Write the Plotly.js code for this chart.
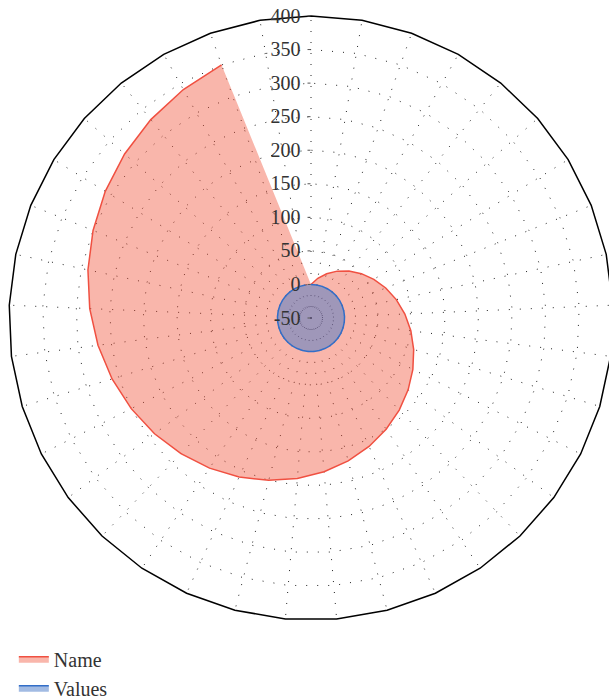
<!DOCTYPE html>
<html>
<head>
<meta charset="utf-8">
<script src="https://cdn.plot.ly/plotly-3.0.1.min.js"></script>
<style>
  html, body { margin: 0; padding: 0; overflow: hidden; background: #fff; }
  #chart { width: 613px; height: 699px; }
</style>
</head>
<body>
<div id="chart"></div>
<script>
// 37 angular categories (labels hidden in the reference)
const categories = ["C1","C2","C3","C4","C5","C6","C7","C8","C9","C10",
  "C11","C12","C13","C14","C15","C16","C17","C18","C19","C20",
  "C21","C22","C23","C24","C25","C26","C27","C28","C29","C30",
  "C31","C32","C33","C34","C35","C36","C37"];

// "Name" series: (36 points, last category empty)
const nameValues = [0, 10, 20, 30, 40, 50, 60, 70, 80, 90,
  100, 110, 120, 130, 140, 150, 160, 170, 180, 190,
  200, 210, 220, 230, 240, 250, 260, 270, 280, 290,
  300, 310, 320, 330, 340, 350];

// "Values" series: small circle at r = 0 for every category
const valuesValues = [0, 0, 0, 0, 0, 0, 0, 0, 0, 0,
  0, 0, 0, 0, 0, 0, 0, 0, 0, 0,
  0, 0, 0, 0, 0, 0, 0, 0, 0, 0,
  0, 0, 0, 0, 0, 0, 0];

// radial tick labels
const radialTicks = [-50, 0, 50, 100, 150, 200, 250, 300, 350, 400];

const seriesNames = ["Name", "Values"];

const serif = "Liberation Serif, Times New Roman, serif";

const traces = [
  {
    type: "scatterpolar",
    name: seriesNames[0],
    theta: categories.slice(0, nameValues.length),
    r: nameValues,
    mode: "lines",
    fill: "toself",
    fillcolor: "rgba(240, 80, 55, 0.42)",
    line: { color: "rgb(240, 80, 65)", width: 1.5 },
    hoverinfo: "skip"
  },
  {
    type: "scatterpolar",
    name: seriesNames[1],
    theta: categories,
    r: valuesValues,
    mode: "lines",
    fill: "toself",
    fillcolor: "rgba(70, 120, 200, 0.5)",
    line: { color: "rgb(50, 110, 200)", width: 1.5 },
    hoverinfo: "skip"
  }
];

const layout = {
  width: 613,
  height: 699,
  margin: { l: 9, r: 0, t: 16, b: 79, autoexpand: false },
  paper_bgcolor: "#fff",
  showlegend: true,
  font: { family: serif, color: "#333" },
  polar: {
    domain: { x: [0, 1], y: [0, 1] },
    bgcolor: "rgba(0,0,0,0)",
    gridshape: "linear",
    angularaxis: {
      type: "category",
      categoryarray: categories,
      categoryorder: "array",
      rotation: 90,
      direction: "clockwise",
      showticklabels: false,
      ticks: "",
      showline: true,
      linecolor: "#000",
      linewidth: 1.5,
      showgrid: true,
      gridcolor: "#222",
      gridwidth: 1,
      griddash: "1px,10px"
    },
    radialaxis: {
      range: [-50, 400],
      angle: 90,
      side: "counterclockwise",
      tickmode: "array",
      tickvals: radialTicks,
      ticktext: radialTicks.map(String),
      tickangle: 90,
      showline: false,
      ticks: "outside",
      ticklen: 3,
      tickcolor: "#555",
      tickfont: { family: serif, size: 20, color: "#333" },
      showgrid: true,
      gridcolor: "#222",
      gridwidth: 1,
      griddash: "1px,10px"
    }
  },
  legend: {
    xref: "paper",
    yref: "paper",
    x: 0.008,
    y: -0.032,
    xanchor: "left",
    yanchor: "top",
    orientation: "v",
    bgcolor: "rgba(0,0,0,0)",
    font: { family: serif, size: 20, color: "#333" }
  }
};

Plotly.newPlot("chart", traces, layout, { displayModeBar: false, staticPlot: true });
</script>
</body>
</html>
